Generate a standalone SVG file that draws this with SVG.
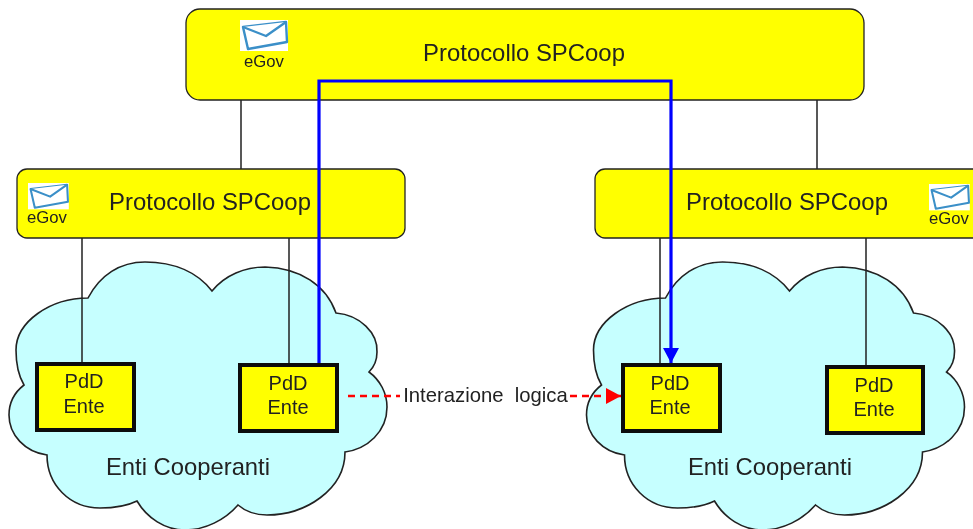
<svg xmlns="http://www.w3.org/2000/svg" width="973" height="529" viewBox="0 0 973 529">
<style>
text{font-family:"Liberation Sans",Arial,sans-serif;fill:#222;text-anchor:middle}
.bar{fill:#ff0;stroke:#222;stroke-width:1.3}
.title{font-size:23.9px}
.pdd{fill:#ff0;stroke:#111;stroke-width:4}
.lbl{font-size:20px}
.ec{font-size:23.8px}
.cloud{fill:#c6ffff;stroke:#222;stroke-width:1.6}
.egov{font-size:16.7px}
.env{fill:#fff;stroke:#3a8fc8;stroke-width:2.4;stroke-linejoin:round}
.wire{fill:none;stroke:#222;stroke-width:1.5}
.blue{fill:none;stroke:#00f;stroke-width:3.2}
.red{fill:none;stroke:#f00;stroke-width:2.6;stroke-dasharray:7 5}
</style>
<defs>
<filter id="soft" filterUnits="userSpaceOnUse" x="0" y="0" width="973" height="529"><feGaussianBlur stdDeviation="0.45"/></filter>
<path id="cl" class="cloud" d="M88,298C100,275 120,262 145,262C175,262 198,273 212,291C225,275 245,267 265,267C300,268 326,285 336,313C360,315 378,333 377,352C377,360 374,367 369,372C380,380 387,393 387,407C387,432 367,449 345,452C345,490 305,515 267,515C255,515 245,511 238,505C225,520 205,530 185,530C165,530 147,518 137,501C125,507 112,508 100,508C70,508 47,485 47,455C25,452 9,435 9,415C9,402 15,392 24,385C18,375 16,365 16,350C16,322 50,298 88,298Z"/>
<g id="ic">
<rect x="0" y="0" width="48" height="31" fill="#fff"/>
<path class="env" d="M3,7L46,2L47,22L8,29Z"/>
<path class="env" d="M3,7L26,16L46,2"/>
</g>
<marker id="ab" markerUnits="userSpaceOnUse" markerWidth="18" markerHeight="18" refX="15" refY="9" orient="auto"><path d="M0,1L15,9L0,17Z" fill="#00f"/></marker>
<marker id="ar" markerUnits="userSpaceOnUse" markerWidth="18" markerHeight="18" refX="15" refY="9" orient="auto"><path d="M0,1L15,9L0,17Z" fill="#f00"/></marker>
</defs>
<g filter="url(#soft)">
<g id="cloud-left"><use href="#cl"/><text x="188" y="475" class="ec">Enti Cooperanti</text></g>
<g id="cloud-right"><use href="#cl" x="577.5"/><text x="770" y="475" class="ec">Enti Cooperanti</text></g>
<g id="top"><rect class="bar" x="186" y="9" width="678" height="91" rx="14"/><text x="524" y="61" class="title">Protocollo SPCoop</text>
<use href="#ic" x="240" y="20"/><text x="264" y="67" class="egov">eGov</text></g>
<g id="left"><rect class="bar" x="17" y="169" width="388" height="69" rx="10"/><text x="210" y="210" class="title">Protocollo SPCoop</text>
<use href="#ic" transform="translate(28 183) scale(.85 .85)"/><text x="47" y="223" class="egov">eGov</text></g>
<g id="right"><rect class="bar" x="595" y="169" width="400" height="69" rx="10"/><text x="787" y="210" class="title">Protocollo SPCoop</text>
<use href="#ic" transform="translate(929 184) scale(.85 .85)"/><text x="949" y="224" class="egov">eGov</text></g>
<g id="connectors">
<path class="wire" d="M241,100V169M817,100V169M82,238V363M289,238V364M660,238V364M866,238V366"/>
<path class="blue" d="M319,364V81H671V363" marker-end="url(#ab)"/>
<path class="red" d="M348,396H400"/>
<path class="red" d="M570,396H621" marker-end="url(#ar)"/>
</g>
<g id="pdd1"><rect class="pdd" x="37" y="364" width="97" height="66"/><text x="84" y="388" class="lbl">PdD</text><text x="84" y="413" class="lbl">Ente</text></g>
<g id="pdd2"><rect class="pdd" x="240" y="365" width="97" height="66"/><text x="288" y="390" class="lbl">PdD</text><text x="288" y="414" class="lbl">Ente</text></g>
<g id="pdd3"><rect class="pdd" x="623" y="365" width="97" height="66"/><text x="670" y="390" class="lbl">PdD</text><text x="670" y="414" class="lbl">Ente</text></g>
<g id="pdd4"><rect class="pdd" x="827" y="367" width="96" height="66"/><text x="874" y="392" class="lbl">PdD</text><text x="874" y="416" class="lbl">Ente</text></g>
<text x="485.5" y="402" font-size="20.3" xml:space="preserve">Interazione  logica</text>
</g>
</svg>
